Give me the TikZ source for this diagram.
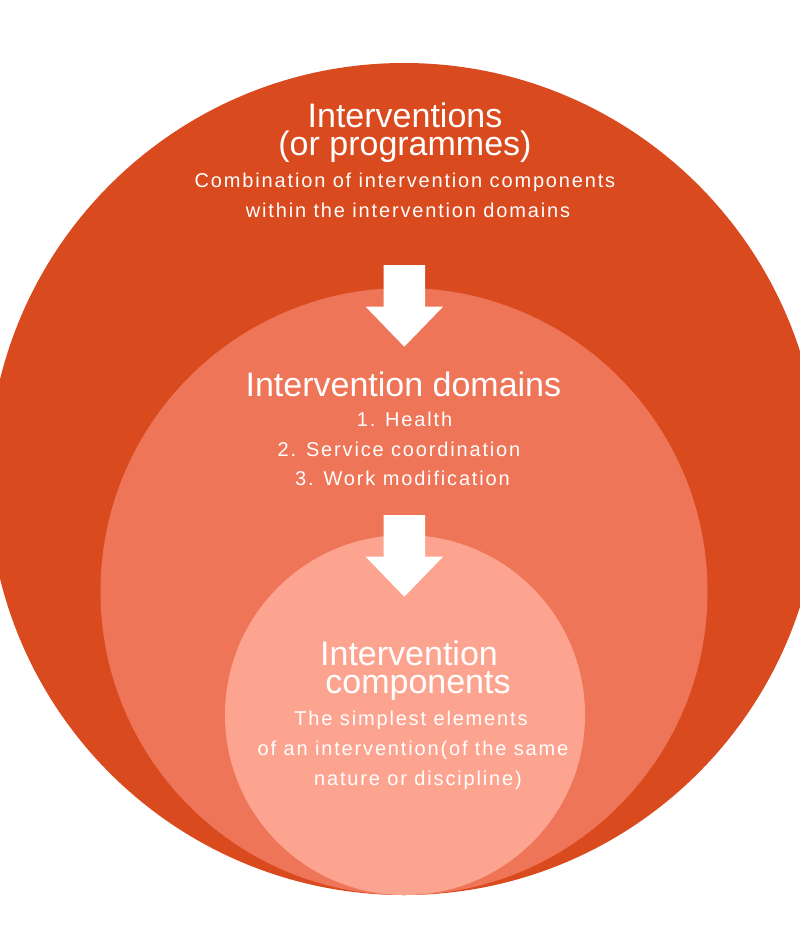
\documentclass[tikz,border=0pt]{standalone}
\usepackage{fontspec}
\setmainfont{Liberation Sans}
\newfontfamily\trackedfont[LetterSpace=9.2]{Liberation Sans}

\definecolor{ringouter}{HTML}{DA4A1F}
\definecolor{ringmid}{HTML}{EF7559}
\definecolor{ringinner}{HTML}{FDA490}

\tikzset{
  ring/.style={circle, draw=none, inner sep=0pt, minimum size=#1},
  headline/.style={text=white, inner sep=0pt, anchor=base,
    font=\fontsize{34bp}{34bp}\selectfont},
  headblock/.style={text=white, inner sep=0pt, anchor=north, align=center,
    font=\fontsize{34bp}{27.5bp}\selectfont},
  bodyline/.style={text=white, inner sep=0pt, anchor=base,
    font=\trackedfont\fontsize{20bp}{20bp}\selectfont},
  blockarrow/.pic={
    \fill[white] (-20.8,0) -- (20.8,0) -- (20.8,41.7) -- (38.7,41.7)
      -- (0,81.7) -- (-38.7,41.7) -- (-20.8,41.7) -- cycle;
  }
}

\begin{document}
\begin{tikzpicture}[x=1bp,y=-1bp]
\useasboundingbox (0,0) rectangle (800,952);
\clip (0,0) rectangle (800,952);

% nested levels, all touching at the bottom
\node[ring=832bp, fill=ringouter] (interventions) at (404,479) {};
\node[ring=607bp, fill=ringmid]   (domains)       at (404,591.5) {};
\node[ring=360bp, fill=ringinner] (components)    at (405,715) {};

% downward block arrows between the levels
\pic at (404.3,265) {blockarrow};
\pic at (404.3,515) {blockarrow};

% outer level
\node[headblock] (t1) at (405,103) {Interventions\\(or programmes)};
\node[bodyline] (t3) at (405,187.3) {Combination of intervention components};
\node[bodyline] (t4) at (408,217.3) {within the intervention domains};

% middle level
\node[headline] (d1) at (403.4,396.7) {Intervention domains};
\node[bodyline] (d2) at (404.5,426.7) {1. Health};
\node[bodyline] (d3) at (399,456.7)   {2. Service coordination};
\node[bodyline] (d4) at (402.5,485)   {3. Work modification};

% inner level
\node[headblock] (c1) at (409,641) {Intervention\\\hspace*{18bp}components};
\node[bodyline] (c3) at (411,725)   {The simplest elements};
\node[bodyline] (c4) at (413,755)   {of an intervention(of the same};
\node[bodyline] (c5) at (418,785)   {nature or discipline)};
\end{tikzpicture}
\end{document}
